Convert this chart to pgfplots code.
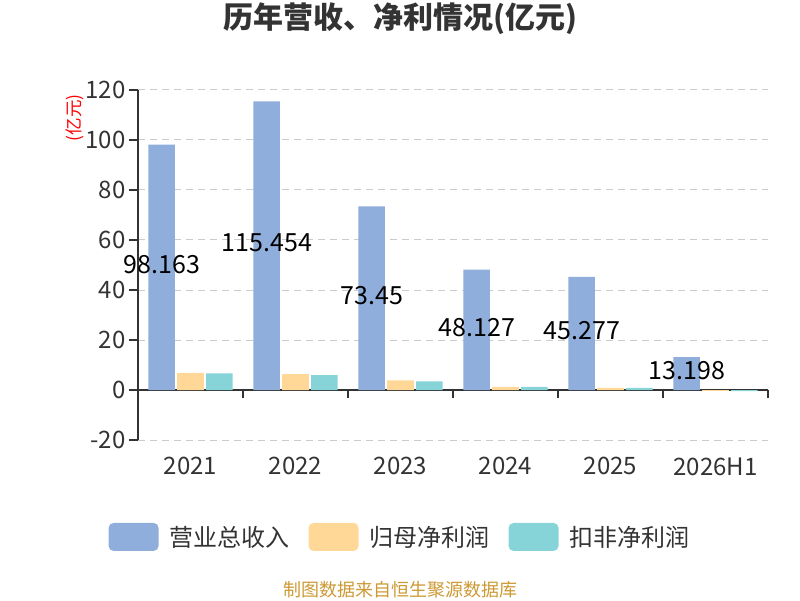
\documentclass[border=0pt]{standalone}
\usepackage{fontspec}
\setmainfont{Noto Sans CJK SC}
\usepackage{pgfplots}
\pgfplotsset{compat=1.18}
\definecolor{cblue}{HTML}{8FAEDB}
\definecolor{corange}{HTML}{FFD898}
\definecolor{cteal}{HTML}{87D4D8}
\definecolor{ctext}{HTML}{333333}
\definecolor{cgrid}{HTML}{CCCCCC}
\definecolor{cfoot}{HTML}{CC9933}
\begin{document}
\begin{tikzpicture}
\useasboundingbox (0,0) rectangle (800pt,600pt);
\begin{axis}[
  at={(138pt,160pt)}, anchor=south west,
  width=630pt, height=350pt, scale only axis,
  xmin=-0.5, xmax=5.5, ymin=-20, ymax=120,
  axis x line*=middle, axis y line*=left,
  axis line style={ctext, line width=1.5pt},
  hide obscured x ticks=false, hide obscured y ticks=false,
  clip=false,
  tick align=outside,
  xtick={0,1,2,3,4,5},
  xticklabels={2021,2022,2023,2024,2025,2026H1},
  minor xtick={-0.5,0.5,1.5,2.5,3.5,4.5,5.5},
  major x tick style={draw=none},
  minor x tick style={ctext, line width=1.5pt},
  minor tick length=8pt,
  major tick length=9pt,
  ytick={-20,0,20,40,60,80,100,120},
  y tick style={ctext, line width=1.5pt},
  ymajorgrids,
  grid style={cgrid, line width=1pt, dash pattern=on 7pt off 5pt},
  /pgf/number format/assume math mode=true,
  ticklabel style={font=\fontsize{24}{24}\selectfont, text=ctext},
  xticklabel style={yshift=-55pt},
  title={历年营收、净利情况(亿元)},
  title style={at={(axis description cs:0.416,1.188)}, anchor=center, font=\fontsize{30}{30}\selectfont\bfseries, text=ctext},
  ylabel={(亿元)},
  ylabel style={at={(axis description cs:-0.1,0.92)}, anchor=center, text=red, font=\fontsize{17.5}{17.5}\selectfont},
  legend style={at={(0.416,-0.277)}, anchor=center, draw=none, fill=none,
    font=\fontsize{24}{24}\selectfont, text=ctext,
    /tikz/every odd column/.append style={column sep=9pt},
    /tikz/every even column/.append style={column sep=17pt},
    cells={anchor=west}},
  legend columns=3,
]
\addplot[ybar, bar width=0.253, bar shift=-0.275, fill=cblue, draw=none,
  legend image code/.code={\fill[cblue, rounded corners=5pt] (0pt,-14pt) rectangle (50pt,14pt);},
  visualization depends on={rawy \as \rawy},
  nodes near coords={\pgfmathprintnumber[fixed,precision=3]{\pgfplotspointmeta}},
  every node near coord/.append style={anchor=center, xshift=-28.5pt, yshift={2.5-1.25*\rawy}, font=\fontsize{25}{25}\selectfont, text=black}]
  coordinates {(0,98.163) (1,115.454) (2,73.45) (3,48.127) (4,45.277) (5,13.198)};
\addlegendentry{营业总收入}
\addplot[ybar, bar width=0.253, bar shift=0, fill=corange, draw=none,
  legend image code/.code={\fill[corange, rounded corners=5pt] (0pt,-14pt) rectangle (50pt,14pt);}]
  coordinates {(0,6.9) (1,6.4) (2,3.9) (3,1.3) (4,0.9) (5,-0.3)};
\addlegendentry{归母净利润}
\addplot[ybar, bar width=0.253, bar shift=0.275, fill=cteal, draw=none,
  legend image code/.code={\fill[cteal, rounded corners=5pt] (0pt,-14pt) rectangle (50pt,14pt);}]
  coordinates {(0,6.7) (1,6.0) (2,3.5) (3,1.3) (4,0.9) (5,-0.4)};
\addlegendentry{扣非净利润}
\node[font=\fontsize{18}{18}\selectfont, text=cfoot, anchor=center] at (axis description cs:0.416,-0.429) {制图数据来自恒生聚源数据库};
\end{axis}
\end{tikzpicture}
\end{document}
